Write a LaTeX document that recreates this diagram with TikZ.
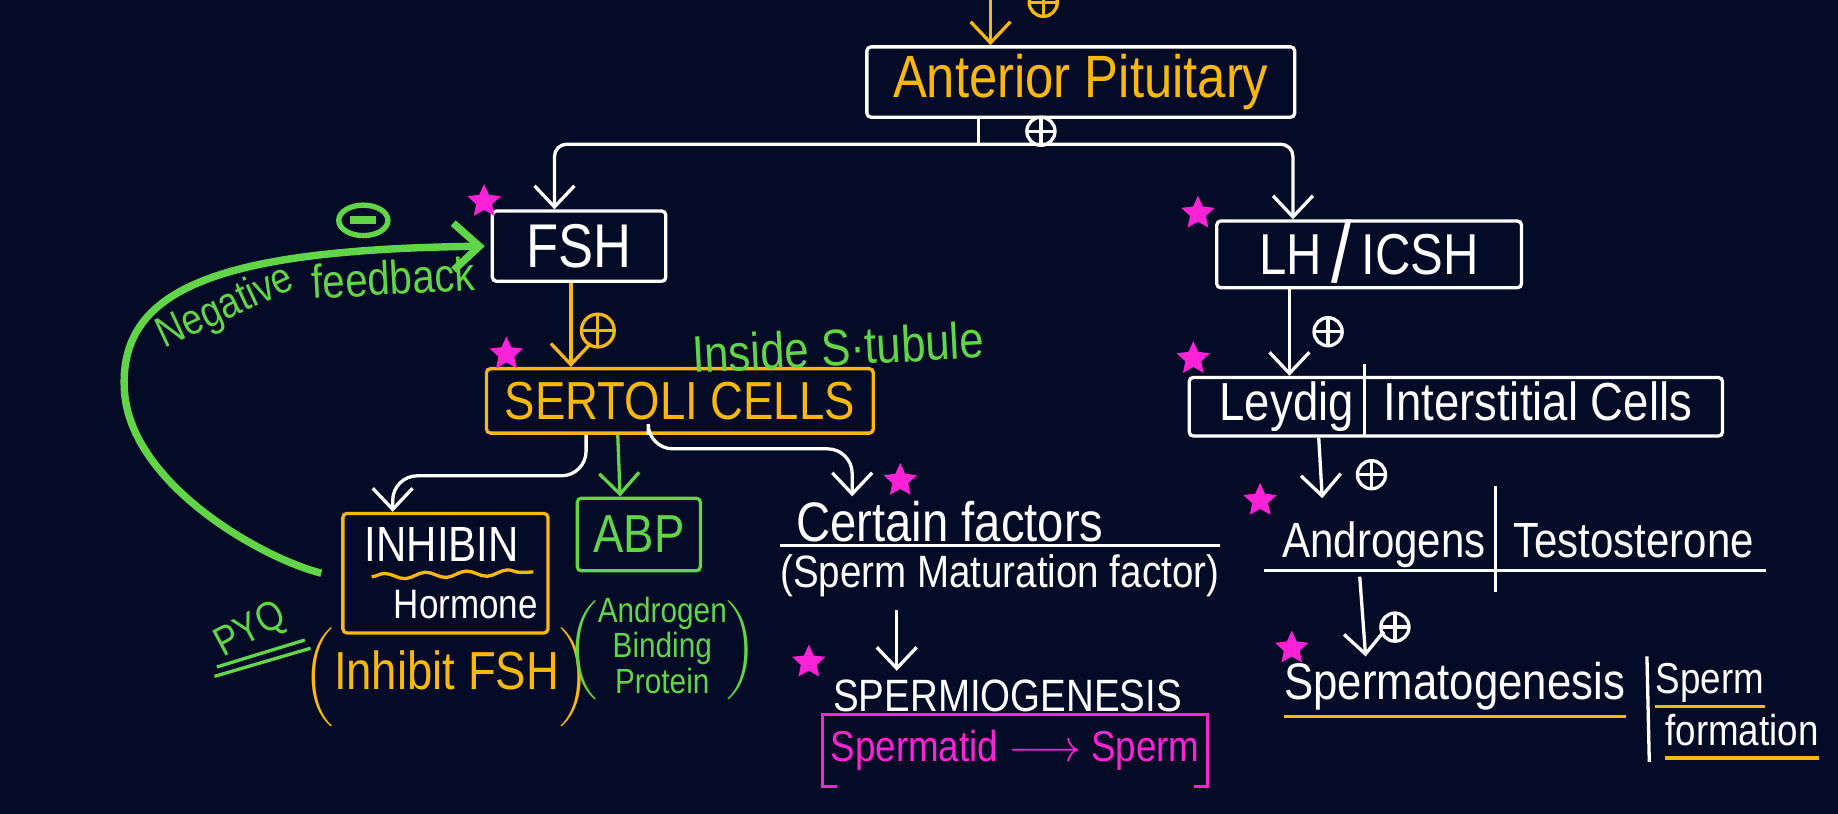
\documentclass[tikz,border=0pt]{standalone}
\usepackage{fontspec}
\setmainfont{Liberation Sans}[FakeStretch=0.85]
\usetikzlibrary{arrows.meta,shapes.geometric,decorations.pathmorphing}

\definecolor{board}{RGB}{3,11,38}
\definecolor{chalkyellow}{RGB}{250,184,12}
\definecolor{chalkgreen}{RGB}{98,212,72}
\definecolor{chalkpink}{RGB}{255,34,214}

\newcommand{\hand}[1]{\fontsize{#1}{#1}\selectfont}
\newcommand{\divbar}[2]{\smash{\rule[-#1]{0.7pt}{#2}}}
\newcommand{\divslash}[1][20]{\smash{\raisebox{-2pt}{\fontsize{#1}{#1}\selectfont/}}}

\tikzset{
  wbox/.style={draw=white,thick,text=white,inner sep=0pt,rounded corners=1pt},
  ybox/.style={draw=chalkyellow,thick,inner sep=0pt,rounded corners=1pt},
  gbox/.style={draw=chalkgreen,thick,text=chalkgreen,inner sep=0pt,rounded corners=1pt},
  arr/.style={thick,white,-{Straight Barb[length=1.8mm,width=3.4mm]}},
  possign/.style={circle,draw,thick,minimum size=0.24cm,inner sep=0pt,
    path picture={\draw[thick] (path picture bounding box.north) -- (path picture bounding box.south)
      (path picture bounding box.west) -- (path picture bounding box.east);}},
  negsign/.style={ellipse,draw,line width=1.3pt,minimum width=0.42cm,minimum height=0.26cm,inner sep=0pt,
    path picture={\draw[line width=2pt] ([xshift=1mm]path picture bounding box.west) -- ([xshift=-1mm]path picture bounding box.east);}},
  pinkstar/.style={star,star points=5,star point ratio=2.1,fill=chalkpink,minimum size=0.3cm,inner sep=0pt},
}

\begin{document}
\begin{tikzpicture}
\fill[board] (0,0) rectangle (15.68,-6.94);
\useasboundingbox (0,0) rectangle (15.68,-6.94);

% boxes
\node[wbox,minimum width=3.65cm,minimum height=0.6cm,text=chalkyellow,font=\hand{14.5}] (ap) at (9.22,-0.70) {Anterior Pituitary};
\node[wbox,minimum width=1.48cm,minimum height=0.6cm,font=\hand{15}] (fsh) at (4.94,-2.10) {FSH};
\node[wbox,minimum width=2.6cm,minimum height=0.57cm,font=\hand{14}] (lh) at (11.68,-2.17) {LH\,\divslash[21]\,ICSH};
\node[ybox,minimum width=3.3cm,minimum height=0.55cm,text=chalkyellow,font=\hand{13}] (sertoli) at (5.80,-3.42) {SERTOLI CELLS};
\node[wbox,minimum width=4.55cm,minimum height=0.5cm,font=\hand{13}] (leydig) at (12.42,-3.47) {Leydig\,\divbar{0.14cm}{0.62cm}\,\,Interstitial Cells};
\node[ybox,minimum width=1.75cm,minimum height=1.02cm,text=white,align=left,font=\hand{12}] (inhibin) at (3.80,-4.89) {\hspace*{1mm}INHIBIN\\[2pt]\hspace*{3.5mm}{\hand{10}Hormone}};
\node[gbox,minimum width=1.05cm,minimum height=0.62cm,font=\hand{13}] (abp) at (5.45,-4.56) {ABP};

% labels
\node[text=chalkgreen,font=\hand{12.5},rotate=3] (inside) at (7.15,-2.96) {Inside S·tubule};
\node[text=chalkgreen,font=\hand{10.5},rotate=25,inner sep=0pt,anchor=base west] (neg1) at (1.40,-2.98) {Negative};
\node[text=chalkgreen,font=\hand{11.5},rotate=3,inner sep=0pt,anchor=base west] (neg2) at (2.66,-2.55) {feedback};
\node[negsign,chalkgreen] (minus) at (3.10,-1.88) {};
\node[text=chalkgreen,font=\hand{10},rotate=28] (pyq) at (2.14,-5.38) {PYQ};
\draw[chalkgreen,thick] (1.85,-5.69) -- (2.60,-5.46);
\draw[chalkgreen,thick] (1.83,-5.77) -- (2.65,-5.53);
\node[text=chalkyellow,font=\hand{13},inner sep=0pt,anchor=base] (inhfsh) at (3.81,-5.88) {$\left(\rule[-0.25cm]{0pt}{0.75cm}\mbox{Inhibit FSH}\right)$};
\node[text=chalkgreen,font=\hand{8.5}] (abpname) at (5.65,-5.55) {$\left(\begin{tabular}{@{}c@{}}Androgen\\Binding\\Protein\end{tabular}\right)$};
\node[text=white,font=\hand{13.5},inner sep=1pt,anchor=base west] (cf) at (6.75,-4.62) {Certain factors};
\node[text=white,font=\hand{11},inner sep=0pt,anchor=base west] (smf) at (6.65,-5.01) {(Sperm Maturation factor)};
\draw[white,thick] ([yshift=2pt]smf.north west) -- ([yshift=2pt]smf.north east);
\node[text=white,font=\hand{11},inner sep=2pt,anchor=base west] (spm) at (7.03,-6.07) {SPERMIOGENESIS};
\node[text=chalkpink,font=\hand{10.5},minimum width=3.27cm,minimum height=0.6cm,inner sep=0pt] (stm) at (8.66,-6.40) {Spermatid $\longrightarrow$ Sperm};
\draw[chalkpink,thick] ([xshift=0.12cm]stm.south west) -- (stm.south west) -- (stm.north west) -- (stm.north east) -- (stm.south east) -- ([xshift=-0.12cm]stm.south east);
\node[text=white,font=\hand{12},inner sep=0pt,anchor=base] (andr) at (12.95,-4.76) {Androgens\,\divbar{0.29cm}{0.9cm}\,\,Testosterone};
\draw[white,thick] ([xshift=-0.15cm,yshift=-3pt]andr.base west) -- ([xshift=0.1cm,yshift=-3pt]andr.base east);
\node[text=white,font=\hand{12.5},inner sep=0pt,anchor=base west] (spg) at (10.95,-5.97) {Spermatogenesis};
\node[text=white,font=\hand{10.5},inner sep=0pt,anchor=base west] (sperm) at (14.12,-5.92) {Sperm};
\node[text=white,font=\hand{10.5},inner sep=0pt,anchor=base west] (form) at (14.20,-6.36) {formation};
\draw[white,thick] (14.05,-5.60) -- (14.07,-6.50);
\draw[chalkyellow,thick] ([yshift=-4pt]spg.base west) -- ([yshift=-4pt]spg.base east);
\draw[chalkyellow,thick] ([yshift=-3pt]sperm.base west) -- ([yshift=-3pt]sperm.base east);
\draw[chalkyellow,thick] ([yshift=-3pt]form.base west) -- ([yshift=-3pt]form.base east);
\draw[chalkyellow,thick,decorate,decoration={snake,amplitude=0.7pt,segment length=3.5mm}] (3.17,-4.92) -- (4.55,-4.88);

% stars
\foreach \pos [count=\i] in {(4.13,-1.72),(4.32,-3.02),(7.68,-4.10),(6.90,-5.65),(10.22,-1.82),(10.18,-3.06),(10.75,-4.27),(11.02,-5.53)}
  \node[pinkstar] (star\i) at \pos {};

% pituitary
\coordinate (hyp) at (8.45,0.05);
\draw[arr,chalkyellow] (hyp) -- (hyp |- ap.north);
\node[possign,chalkyellow] (p0) at (8.90,-0.02) {};
\coordinate (split) at (8.35,-1.23);
\draw[white,thick] (ap.south -| split) -- (split);
\node[possign,white] (p1) at (8.88,-1.12) {};
\coordinate (fshin) at ([xshift=-0.21cm]fsh.north);
\coordinate (lhin) at ([xshift=-0.65cm]lh.north);
\draw[arr,rounded corners=3pt] (split) -| (fshin);
\draw[arr,rounded corners=3pt] (split) -| (lhin);

% fsh side
\coordinate (fshout) at ([xshift=-0.07cm]fsh.south);
\draw[arr,chalkyellow] (fshout) -- (fshout |- sertoli.north);
\node[possign,chalkyellow,minimum size=0.28cm] (p2) at (5.10,-2.82) {};
\coordinate (s1) at ([xshift=-0.80cm]sertoli.south);
\coordinate (s2) at ([xshift=-0.53cm]sertoli.south);
\coordinate (s3) at ([xshift=-0.27cm]sertoli.south);
\coordinate (cfin) at ([xshift=0.52cm]cf.north west);
\draw[arr,rounded corners=6pt] (s1) -- ++(0,-0.35) -| ([xshift=-0.45cm]inhibin.north);
\draw[arr,chalkgreen] (s2) -- ([xshift=-0.16cm]abp.north);
\draw[arr,rounded corners=6pt] (s3) -- ++(0,-0.12) -| (cfin);
\coordinate (cfout) at ([xshift=1.0cm,yshift=-3pt]smf.south west);
\draw[arr] (cfout) -- (cfout |- spm.north);

% feedback
\draw[chalkgreen,line width=1.8pt,-{Straight Barb[length=2.2mm,width=4mm]}] ([xshift=-0.17cm]inhibin.west) .. controls (2.2,-4.75) and (1.08,-4.1) .. (1.06,-3.3) .. controls (1.03,-2.45) and (1.9,-2.13) .. ([xshift=-0.05cm]fsh.west);

% lh side
\coordinate (lhout) at ([xshift=-0.68cm]lh.south);
\draw[arr] (lhout) -- (lhout |- leydig.north);
\node[possign,white] (p3) at (11.33,-2.83) {};
\coordinate (leyout) at ([xshift=-1.17cm]leydig.south);
\coordinate (andrin) at (11.28,-4.25);
\draw[arr] (leyout) -- (andrin);
\node[possign,white] (p4) at (11.70,-4.05) {};
\coordinate (androut) at (11.60,-4.92);
\coordinate (spgin) at (11.65,-5.60);
\draw[arr] (androut) -- (spgin);
\node[possign,white] (p5) at (11.90,-5.35) {};
\end{tikzpicture}
\end{document}
